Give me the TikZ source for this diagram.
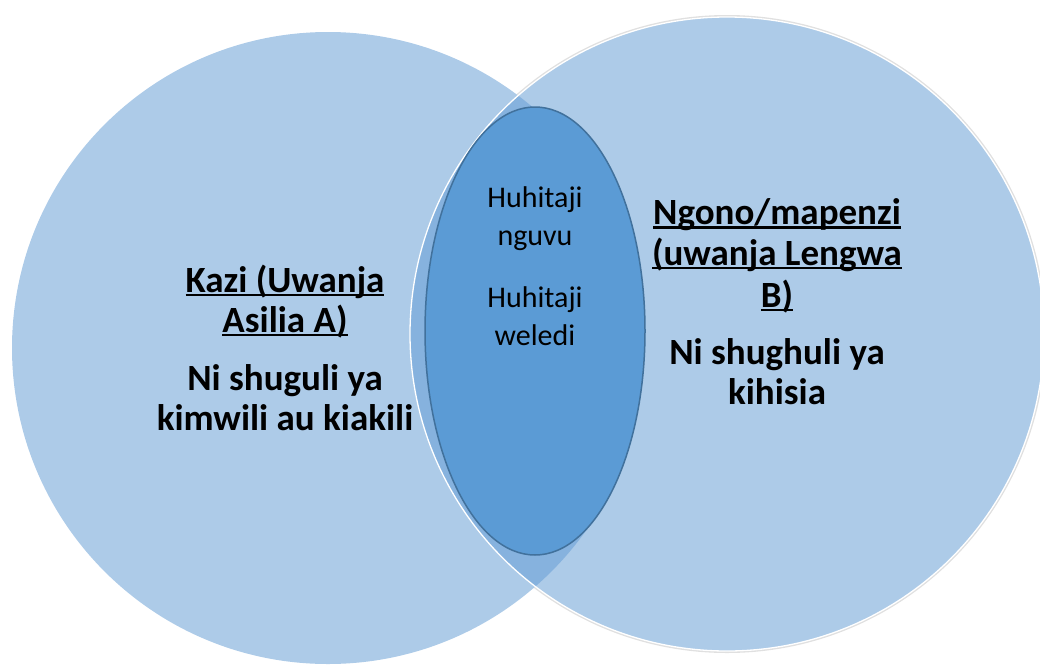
\documentclass[tikz,border=0pt]{standalone}
\usepackage{fontspec}
\setmainfont{Carlito}
\definecolor{lite}{HTML}{ADCBE8}
\definecolor{lens}{HTML}{86B2DE}
\definecolor{ovalfill}{HTML}{5B9BD5}
\definecolor{ovalline}{HTML}{41719C}
\newcommand\ulline[1]{\setbox0\hbox{#1}\rlap{\rule[-0.11em]{\wd0}{0.065em}}\box0}
\begin{document}
\begin{tikzpicture}[x=1pt,y=-1pt,
 bigtxt/.style={font=\fontsize{37}{41}\selectfont\bfseries, anchor=base, inner sep=0pt},
 midtxt/.style={font=\fontsize{30}{34}\selectfont, anchor=base, inner sep=0pt}]
\useasboundingbox (0,0) rectangle (1040,664);
\clip (0,0) rectangle (1040,664);
\draw[black!12, line width=2pt] (727,334) circle[radius=318];
\fill[lite] (328,348) circle[radius=316];
\fill[lite] (727,334) circle[radius=317];
\begin{scope}
\clip (328,348) circle[radius=316];
\fill[lens] (727,334) circle[radius=317];
\end{scope}
\draw[white, line width=1.3pt] (727,334) circle[radius=317];
\draw[ovalline, fill=ovalfill, line width=1.5pt] (535,331) ellipse[x radius=110, y radius=224];
% left
\node[bigtxt] (l1) at (285,292) {\ulline{Kazi (Uwanja}};
\node[bigtxt] (l2) at (285,332) {\ulline{Asilia A)}};
\node[bigtxt] (l3) at (285,390) {Ni shuguli ya};
\node[bigtxt] (l4) at (285,430) {kimwili au kiakili};
% right
\node[bigtxt] (r1) at (777,224.5) {\ulline{Ngono/mapenzi}};
\node[bigtxt] (r2) at (777,265) {\ulline{(uwanja Lengwa}};
\node[bigtxt] (r3) at (777,307) {\ulline{B)}};
\node[bigtxt] (r4) at (777,364) {Ni shughuli ya};
\node[bigtxt] (r5) at (777,404) {kihisia};
% middle
\node[midtxt] (m1) at (535,207.5) {Huhitaji};
\node[midtxt] (m2) at (535,245.6) {nguvu};
\node[midtxt] (m3) at (535,307) {Huhitaji};
\node[midtxt] (m4) at (535,345) {weledi};
\end{tikzpicture}
\end{document}
